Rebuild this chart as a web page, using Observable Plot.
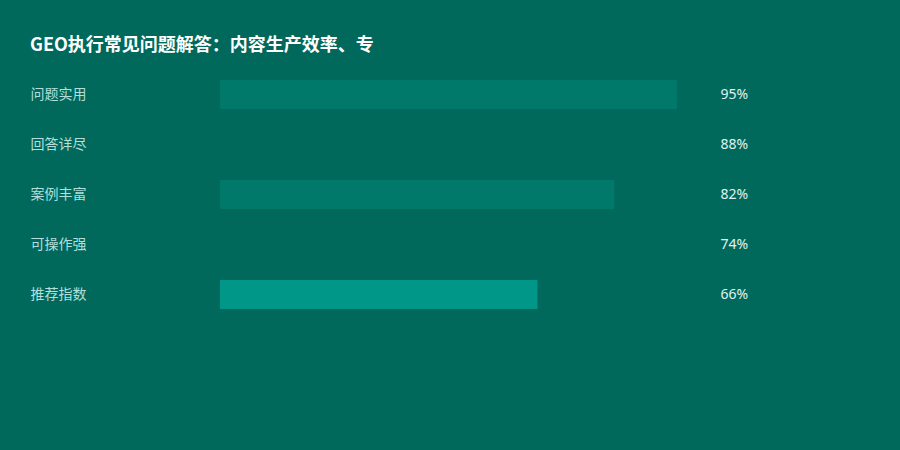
<!DOCTYPE html>
<html>
<head>
<meta charset="utf-8">
<script src="https://cdn.jsdelivr.net/npm/d3@7"></script>
<script src="https://cdn.jsdelivr.net/npm/@observablehq/plot@0.6"></script>
<style>
  html, body { margin: 0; padding: 0; background: #00695c; }
  body { width: 900px; height: 450px; overflow: hidden; font-family: "Noto Sans", "Noto Sans CJK SC", sans-serif; }
  #title { box-sizing: border-box; height: 70px; padding: 31px 0 0 30px; color: #ffffff; font-weight: bold; font-size: 18px; line-height: 24px; font-family: "Noto Sans CJK SC", "Noto Sans", sans-serif; }
  #chart svg { display: block; }
</style>
</head>
<body>
<div id="title">GEO执行常见问题解答：内容生产效率、专</div>
<div id="chart"></div>
<script>
const categories = ["问题实用", "回答详尽", "案例丰富", "可操作强", "推荐指数"];
const values = [95, 88, 82, 74, 66];
const valueLabels = ["95%", "88%", "82%", "74%", "66%"];

const palette = ["#00796b", "#00695c", "#00796b", "#00695c", "#009688"];
const data = categories.map((c, i) => ({category: c, value: values[i], label: valueLabels[i], idx: i}));

const chart = Plot.plot({
  width: 900,
  height: 380,
  marginLeft: 220,
  marginRight: 199,
  marginTop: 10,
  marginBottom: 141,
  style: {background: "#00695c", fontFamily: "'Noto Sans', 'Noto Sans CJK SC', sans-serif"},
  x: {domain: [0, 100], axis: null},
  y: {domain: categories, axis: null, paddingInner: 0.42, paddingOuter: 0},
  marks: [
    Plot.barX(data, {x: "value", y: "category", fill: d => palette[d.idx]}),
    Plot.text(data, {y: "category", text: "category", frameAnchor: "left", dx: -190, textAnchor: "start", fill: "#b2dfdb", fontSize: 14, fontFamily: "'Noto Sans CJK SC', sans-serif"}),
    Plot.text(data, {y: "category", text: "label", frameAnchor: "right", dx: 19, textAnchor: "start", fill: "#e0f2f1", fontSize: 14})
  ]
});
document.getElementById("chart").appendChild(chart);
</script>
</body>
</html>
